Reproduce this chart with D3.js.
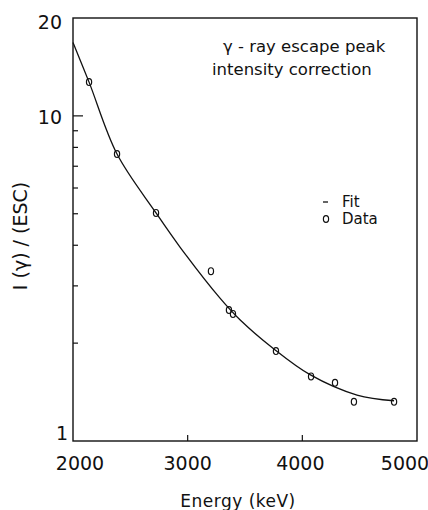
<!DOCTYPE html>
<html>
<head>
<meta charset="utf-8">
<script src="https://cdn.jsdelivr.net/npm/d3@7"></script>
<style>
  body { margin: 0; background: #fff; }
  text { font-family: "DejaVu Sans", sans-serif; fill: #111; }
</style>
</head>
<body>
<div id="chart"></div>
<script>
// ......................
// Data
var dataEnergy = [2140, 2384, 2724, 3203, 3360, 3395, 3770, 4076, 4285, 4450, 4800];
var dataRatio  = [12.7, 7.63, 5.03, 3.33, 2.53, 2.46, 1.89, 1.58, 1.51, 1.32, 1.32];

var fitEnergy = [2000, 2140, 2384, 2724, 2933, 3282, 3456, 3744, 4067, 4477, 4800];
var fitRatio  = [16.8, 12.7, 7.63, 5.03, 3.95, 2.75, 2.36, 1.93, 1.60, 1.385, 1.33];

var xTicks = [2000, 3000, 4000, 5000];
var yMinorTicks = [2, 3, 4, 5, 6, 7, 8, 9];
var yLabels = [1, 10, 20];

// ......................
// SVG area
var svgWidth = 428;
var svgHeight = 510;

var svg = d3.select("#chart")
    .append("svg")
    .attr("width", svgWidth)
    .attr("height", svgHeight);

var x = d3.scaleLinear().domain([2000, 5000]).range([73, 417]);
var y = d3.scaleLog().domain([1, 20]).range([441, 18]);

// frame
svg.append("rect")
    .attr("x", x(2000))
    .attr("y", y(20))
    .attr("width", x(5000) - x(2000))
    .attr("height", y(1) - y(20))
    .attr("fill", "none")
    .attr("stroke", "#111")
    .attr("stroke-width", 1.4);

// x ticks (inward) and labels
svg.selectAll(".xtick")
    .data([3000, 4000])
    .enter().append("line")
    .attr("x1", d => x(d)).attr("x2", d => x(d))
    .attr("y1", y(1)).attr("y2", y(1) - 6)
    .attr("stroke", "#111").attr("stroke-width", 1.2);

var xLabelShift = {2000: 7, 3000: 0, 4000: -2, 5000: -12};
svg.selectAll(".xlab")
    .data(xTicks)
    .enter().append("text")
    .attr("x", d => x(d) + xLabelShift[d])
    .attr("y", 470)
    .attr("text-anchor", "middle")
    .attr("font-size", 19)
    .text(d => d);

// y ticks (inward)
svg.selectAll(".ytick")
    .data(yMinorTicks)
    .enter().append("line")
    .attr("x1", x(2000)).attr("x2", x(2000) + 5)
    .attr("y1", d => y(d)).attr("y2", d => y(d))
    .attr("stroke", "#111").attr("stroke-width", 1.2);

svg.append("line")
    .attr("x1", x(2000)).attr("x2", x(2000) + 10)
    .attr("y1", y(10)).attr("y2", y(10))
    .attr("stroke", "#111").attr("stroke-width", 1.2);

var yLabelPos = {1: [68, 440], 10: [62, 124], 20: [62, 29]};
svg.selectAll(".ylab")
    .data(yLabels)
    .enter().append("text")
    .attr("x", d => yLabelPos[d][0])
    .attr("y", d => yLabelPos[d][1])
    .attr("text-anchor", "end")
    .attr("font-size", 19)
    .text(d => d);

// axis titles
svg.append("text")
    .attr("x", 238)
    .attr("y", 507)
    .attr("text-anchor", "middle")
    .attr("font-size", 17)
    .attr("letter-spacing", 0.5)
    .text("Energy (keV)");

svg.append("text")
    .attr("transform", "translate(27, 236) rotate(-90)")
    .attr("text-anchor", "middle")
    .attr("font-size", 19)
    .text("I (γ) / (ESC)");

// ......................
// fit curve
var fitLine = d3.line()
    .x(d => x(d[0]))
    .y(d => y(d[1]))
    .curve(d3.curveCatmullRom.alpha(0.5));

svg.append("path")
    .datum(d3.zip(fitEnergy, fitRatio))
    .attr("d", fitLine)
    .attr("fill", "none")
    .attr("stroke", "#111")
    .attr("stroke-width", 1.3);

// data points (open "o")
svg.selectAll(".pt")
    .data(d3.zip(dataEnergy, dataRatio))
    .enter().append("ellipse")
    .attr("cx", d => x(d[0]))
    .attr("cy", d => y(d[1]))
    .attr("rx", 2.6)
    .attr("ry", 3.4)
    .attr("fill", "none")
    .attr("stroke", "#111")
    .attr("stroke-width", 1.2);

// ......................
// title & legend
svg.append("text")
    .attr("x", 223).attr("y", 52)
    .attr("font-size", 16.5)
    .text("γ - ray escape peak");

svg.append("text")
    .attr("x", 212).attr("y", 75)
    .attr("font-size", 16.5)
    .text("intensity correction");

svg.append("line")
    .attr("x1", 323).attr("x2", 328)
    .attr("y1", 202).attr("y2", 202)
    .attr("stroke", "#111").attr("stroke-width", 1.3);

svg.append("text")
    .attr("x", 342).attr("y", 207)
    .attr("font-size", 15)
    .text("Fit");

svg.append("ellipse")
    .attr("cx", 326).attr("cy", 219)
    .attr("rx", 2.6).attr("ry", 3.4)
    .attr("fill", "none")
    .attr("stroke", "#111").attr("stroke-width", 1.2);

svg.append("text")
    .attr("x", 342).attr("y", 224)
    .attr("font-size", 15)
    .text("Data");
</script>
</body>
</html>
